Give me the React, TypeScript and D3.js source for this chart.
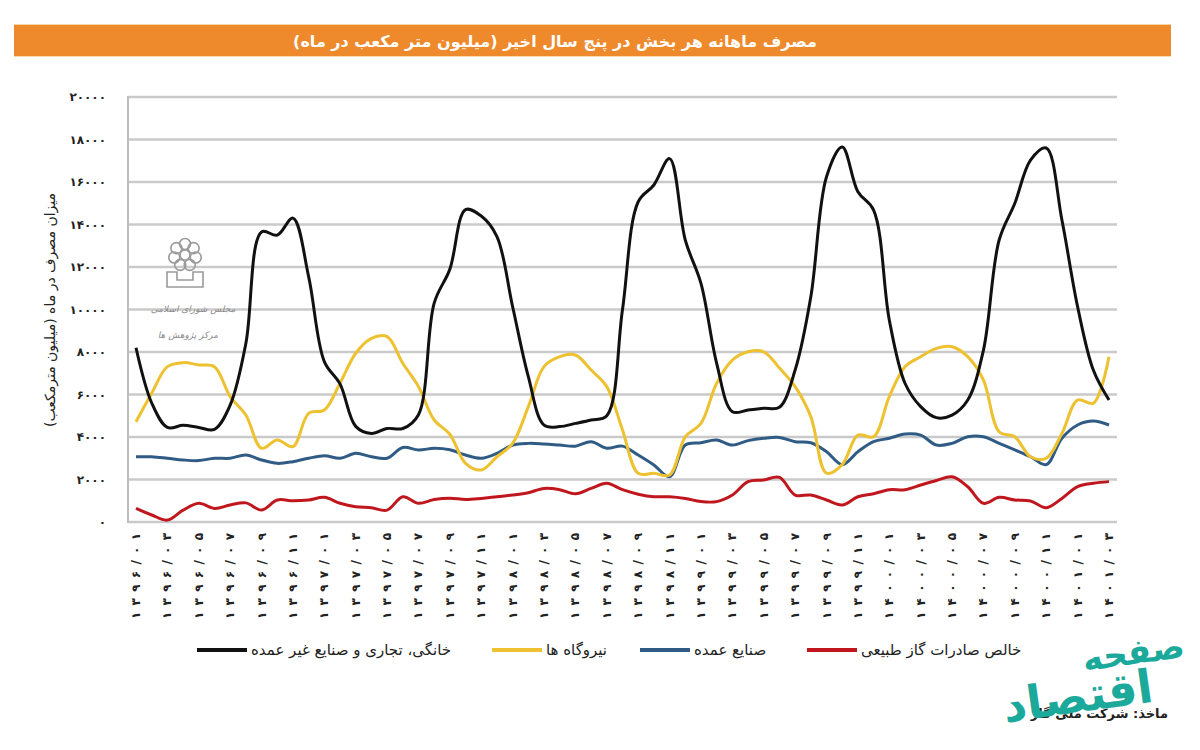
import React, { useRef, useEffect } from 'react';
import * as d3 from 'd3';

// period labels on the x axis (every second month)
const periodLabels = [
    '۱۳۹۶/۰۱', '۱۳۹۶/۰۳', '۱۳۹۶/۰۵', '۱۳۹۶/۰۷', '۱۳۹۶/۰۹', '۱۳۹۶/۱۱',
    '۱۳۹۷/۰۱', '۱۳۹۷/۰۳', '۱۳۹۷/۰۵', '۱۳۹۷/۰۷', '۱۳۹۷/۰۹', '۱۳۹۷/۱۱',
    '۱۳۹۸/۰۱', '۱۳۹۸/۰۳', '۱۳۹۸/۰۵', '۱۳۹۸/۰۷', '۱۳۹۸/۰۹', '۱۳۹۸/۱۱',
    '۱۳۹۹/۰۱', '۱۳۹۹/۰۳', '۱۳۹۹/۰۵', '۱۳۹۹/۰۷', '۱۳۹۹/۰۹', '۱۳۹۹/۱۱',
    '۱۴۰۰/۰۱', '۱۴۰۰/۰۳', '۱۴۰۰/۰۵', '۱۴۰۰/۰۷', '۱۴۰۰/۰۹', '۱۴۰۰/۱۱',
    '۱۴۰۱/۰۱', '۱۴۰۱/۰۳'
];

const yTicks = [0, 2000, 4000, 6000, 8000, 10000, 12000, 14000, 16000, 18000, 20000];
const yTickLabels = ['۰', '۲۰۰۰', '۴۰۰۰', '۶۰۰۰', '۸۰۰۰', '۱۰۰۰۰', '۱۲۰۰۰', '۱۴۰۰۰', '۱۶۰۰۰', '۱۸۰۰۰', '۲۰۰۰۰'];

// monthly values, 1396/01 .. 1401/03
const residential = [
    8200, 5600, 4450, 4550, 4450, 4360, 5500, 8400, 13650, 13500,
    14300, 11550, 7550, 6500, 4500, 4170, 4400, 4400, 5050, 10300,
    11900, 14700, 14400, 13430, 10130, 6840, 4560, 4490, 4640, 4800,
    5000, 10000, 15070, 15860, 17100, 13270, 11230, 7470, 5190, 5270,
    5350, 5400, 7150, 10600, 16250, 17650, 15540, 14680, 9510, 6530,
    5430, 4910, 5030, 5740, 8090, 13270, 15000, 17030, 17600, 14210,
    10130, 7150, 5740
];
const powerPlants = [
    4720, 6060, 7310, 7500, 7390, 7310, 5900, 5035, 3470, 3860,
    3550, 5110, 5270, 6530, 7940, 8640, 8720, 7470, 6370, 4800,
    4130, 2760, 2450, 3070, 3700, 5430, 7310, 7780, 7860, 7150,
    6370, 4330, 2290, 2290, 2210, 4010, 4640, 6530, 7620, 8010,
    8010, 7250, 6370, 4960, 2300, 2700, 4090, 4010, 5900, 7310,
    7780, 8170, 8250, 7780, 6680, 4250, 4010, 3070, 3000, 4170,
    5740, 5590, 7780
];
const majorIndustry = [
    3070, 3070, 3000, 2920, 2890, 3000, 3000, 3150, 2920, 2760,
    2840, 3000, 3120, 3000, 3230, 3070, 3000, 3510, 3390, 3470,
    3400, 3150, 3000, 3230, 3620, 3700, 3670, 3620, 3570, 3780,
    3470, 3570, 3150, 2680, 2130, 3620, 3730, 3860, 3620, 3830,
    3940, 3980, 3780, 3730, 3310, 2700, 3310, 3780, 3940, 4140,
    4090, 3620, 3700, 4010, 4010, 3700, 3390, 3070, 2700, 3940,
    4565, 4750, 4565
];
const netExports = [
    640, 330, 90, 560, 880, 640, 800, 900, 560, 1035,
    1000, 1035, 1160, 880, 720, 670, 560, 1190, 880, 1060,
    1120, 1060, 1110, 1190, 1270, 1380, 1580, 1520, 1330, 1580,
    1820, 1520, 1310, 1190, 1190, 1110, 960, 960, 1270, 1900,
    1980, 2100, 1270, 1270, 1035, 800, 1190, 1330, 1520, 1520,
    1740, 1950, 2130, 1660, 880, 1160, 1035, 990, 670, 1110,
    1660, 1820, 1900
];

const seriesNames = ['خانگی، تجاری و صنایع غیر عمده', 'نیروگاه ها', 'صنایع عمده', 'خالص صادرات گاز طبیعی'];
const seriesColors = ['#111111', '#EDC12F', '#2F5B84', '#C0161D'];

const FONT = '"DejaVu Sans", sans-serif';

const App = () => {
    const svgRef = useRef<SVGSVGElement>(null);

    useEffect(() => {
        if (!svgRef.current) return;
        const svg = d3.select(svgRef.current);
        svg.selectAll('*').remove();

        const left = 128, right = 1117, top = 97, bottom = 522;
        const xScale = d3.scaleLinear().domain([0, residential.length - 1]).range([136, 1109]);
        const yScale = d3.scaleLinear().domain([0, 20000]).range([bottom, top]);

        // title bar
        svg.append('rect').attr('x', 14).attr('y', 24).attr('width', 1157).attr('height', 33)
            .attr('fill', '#EE8A2C');
        svg.append('line').attr('x1', 14).attr('x2', 1171).attr('y1', 24.5).attr('y2', 24.5)
            .attr('stroke', '#F8D7A8').attr('stroke-width', 1);
        svg.append('line').attr('x1', 14).attr('x2', 1171).attr('y1', 56.5).attr('y2', 56.5)
            .attr('stroke', '#F8D7A8').attr('stroke-width', 1);
        svg.append('text')
            .attr('x', 555).attr('y', 47)
            .attr('text-anchor', 'middle')
            .attr('direction', 'rtl')
            .attr('fill', '#fff')
            .attr('font-family', FONT)
            .attr('font-weight', 'bold')
            .attr('font-size', 16)
            .text('مصرف ماهانه هر بخش در پنج سال اخیر (میلیون متر مکعب در ماه)');

        // grid
        svg.append('g').selectAll('line')
            .data(yTicks).enter().append('line')
            .attr('x1', left).attr('x2', right)
            .attr('y1', d => yScale(d)).attr('y2', d => yScale(d))
            .attr('stroke', '#CACACA').attr('stroke-width', 2.5);
        svg.append('line')
            .attr('x1', left).attr('x2', left)
            .attr('y1', top - 1).attr('y2', bottom + 1)
            .attr('stroke', '#BDBDBD').attr('stroke-width', 2);

        // y tick labels
        svg.append('g').selectAll('text')
            .data(yTicks).enter().append('text')
            .attr('x', 106).attr('y', d => yScale(d) + 4)
            .attr('text-anchor', 'end')
            .attr('font-family', FONT)
            .attr('font-weight', 'bold')
            .attr('font-size', 12)
            .attr('fill', '#222')
            .text((d, i) => yTickLabels[i]);

        // y title
        svg.append('text')
            .attr('transform', `translate(55, 310) rotate(-90)`)
            .attr('text-anchor', 'middle')
            .attr('direction', 'rtl')
            .attr('font-family', FONT)
            .attr('font-size', 14)
            .attr('fill', '#222')
            .text('میزان مصرف در ماه (میلیون مترمکعب)');

        // watermark of the research centre
        const wm = svg.append('g').attr('stroke', '#9a9a9a').attr('fill', 'none').attr('stroke-width', 1.6);
        const cx = 185, cy = 255;
        d3.range(7).forEach(k => {
            const a = -Math.PI / 2 + (k * 2 * Math.PI) / 7;
            wm.append('circle').attr('cx', cx + 11 * Math.cos(a)).attr('cy', cy + 11 * Math.sin(a)).attr('r', 5.5);
        });
        wm.append('circle').attr('cx', cx).attr('cy', cy).attr('r', 5);
        wm.append('path').attr('d', `M${cx - 18},${cy + 17} L${cx - 18},${cy + 32} L${cx + 18},${cy + 32} L${cx + 18},${cy + 17} L${cx + 8},${cy + 17} L${cx + 8},${cy + 25} L${cx - 8},${cy + 25} L${cx - 8},${cy + 17} Z`);
        svg.append('text').attr('x', 193).attr('y', 312).attr('text-anchor', 'middle')
            .attr('font-family', FONT).attr('font-size', 9).attr('font-style', 'italic').attr('fill', '#8a8a8a')
            .text('مجلس شورای اسلامی');
        svg.append('text').attr('x', 188).attr('y', 338).attr('text-anchor', 'middle')
            .attr('font-family', FONT).attr('font-size', 9).attr('font-style', 'italic').attr('fill', '#8a8a8a')
            .text('مرکز پژوهش ها');

        // x labels
        svg.append('g').selectAll('text')
            .data(periodLabels).enter().append('text')
            .attr('transform', (d, i) => `translate(${xScale(i * 2) + 4}, 533) rotate(-90)`)
            .attr('text-anchor', 'end')
            .attr('font-family', FONT)
            .attr('font-weight', 'bold')
            .attr('font-size', 12)
            .attr('textLength', 86)
            .attr('lengthAdjust', 'spacing')
            .attr('fill', '#222')
            .text(d => d);

        // lines
        const series = [residential, powerPlants, majorIndustry, netExports];
        const line = d3.line<number>()
            .x((d, i) => xScale(i))
            .y(d => yScale(d))
            .curve(d3.curveCatmullRom.alpha(0.5));
        [3, 2, 1, 0].forEach(k => {
            svg.append('path')
                .datum(series[k])
                .attr('d', line)
                .attr('fill', 'none')
                .attr('stroke', seriesColors[k])
                .attr('stroke-width', 3)
                .attr('stroke-linejoin', 'round');
        });

        // legend
        const legendX = [197, 492, 640, 807];
        const lg = svg.append('g').selectAll('g')
            .data(seriesNames).enter().append('g')
            .attr('transform', (d, i) => `translate(${legendX[i]}, 650)`);
        lg.append('line').attr('x1', 0).attr('x2', 50).attr('y1', 0).attr('y2', 0)
            .attr('stroke', (d, i) => seriesColors[i]).attr('stroke-width', 4);
        lg.append('text').attr('x', 54).attr('y', 5)
            .attr('font-family', FONT).attr('font-size', 15).attr('fill', '#222')
            .text(d => d);

        // source + publisher logo
        svg.append('text').attr('x', 1168).attr('y', 718).attr('text-anchor', 'start')
            .attr('direction', 'rtl')
            .attr('font-family', FONT).attr('font-weight', 'bold').attr('font-size', 13).attr('fill', '#222')
            .text('ماخذ: شرکت ملی گاز');
        svg.append('text').attr('x', 1080).attr('y', 712).attr('text-anchor', 'middle')
            .attr('transform', 'rotate(-8, 1080, 712)')
            .attr('font-family', FONT).attr('font-weight', 'bold').attr('font-size', 46).attr('fill', '#1BA99B')
            .text('اقتصاد');
        svg.append('text').attr('x', 1135).attr('y', 664).attr('text-anchor', 'middle')
            .attr('transform', 'rotate(-8, 1135, 664)')
            .attr('font-family', FONT).attr('font-weight', 'bold').attr('font-size', 34).attr('fill', '#1BA99B')
            .text('صفحه');
    }, []);

    return (
        <svg
            ref={svgRef}
            width={1200}
            height={750}
            style={{ position: 'absolute', left: 0, top: 0, background: '#fff' }}
        />
    );
};

export default App;
